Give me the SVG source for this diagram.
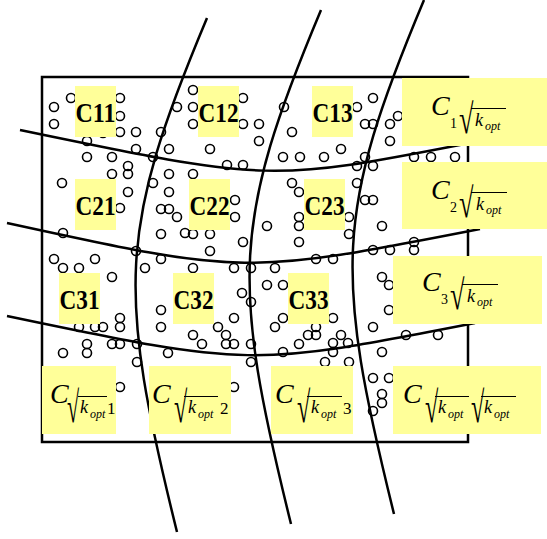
<svg xmlns="http://www.w3.org/2000/svg" width="547" height="539" viewBox="0 0 547 539">
<style>
.frame{fill:none;stroke:#000;stroke-width:2.5}
.pt{fill:none;stroke:#000;stroke-width:1.6}
.curve{fill:none;stroke:#000;stroke-width:2.5}
.box{fill:#FFFF99}
.lbl{font-family:"Liberation Serif","Times New Roman",serif;font-weight:bold;font-size:28px;fill:#000}
.it{font-family:"Liberation Serif","Times New Roman",serif;font-style:italic;fill:#000}
.rm{font-family:"Liberation Serif","Times New Roman",serif;fill:#000}
.C{font-size:28px}
.k{font-size:18px}
.o{font-size:12px}
.d{font-size:14px}
.rad{font-family:"Liberation Serif","Times New Roman",serif;font-size:22px;fill:#000}
.bar{stroke:#000;stroke-width:1}
</style>
<defs><circle id="p" r="4.5" class="pt"/></defs>
<rect class="frame" x="42" y="77" width="426" height="365"/>
<g id="points">
<use href="#p" x="71" y="98"/><use href="#p" x="54" y="107"/><use href="#p" x="54" y="124"/><use href="#p" x="120" y="98"/><use href="#p" x="120" y="116"/><use href="#p" x="120" y="132"/><use href="#p" x="136" y="132"/><use href="#p" x="161" y="132"/><use href="#p" x="177" y="107"/><use href="#p" x="87" y="141"/><use href="#p" x="87" y="157"/><use href="#p" x="112" y="157"/><use href="#p" x="136" y="149"/><use href="#p" x="153" y="157"/><use href="#p" x="169" y="149"/><use href="#p" x="128" y="166"/><use href="#p" x="128" y="174"/><use href="#p" x="112" y="174"/><use href="#p" x="103" y="133"/>
<use href="#p" x="193" y="90"/><use href="#p" x="193" y="107"/><use href="#p" x="193" y="124"/><use href="#p" x="243" y="98"/><use href="#p" x="243" y="124"/><use href="#p" x="259" y="124"/><use href="#p" x="259" y="141"/><use href="#p" x="284" y="107"/><use href="#p" x="292" y="132"/><use href="#p" x="210" y="149"/><use href="#p" x="227" y="165"/><use href="#p" x="243" y="165"/><use href="#p" x="283" y="157"/><use href="#p" x="300" y="157"/><use href="#p" x="324" y="157"/>
<use href="#p" x="373" y="98"/><use href="#p" x="357" y="107"/><use href="#p" x="365" y="124"/><use href="#p" x="373" y="124"/><use href="#p" x="398" y="116"/><use href="#p" x="390" y="124"/><use href="#p" x="390" y="141"/><use href="#p" x="341" y="149"/><use href="#p" x="365" y="157"/><use href="#p" x="357" y="166"/><use href="#p" x="373" y="166"/><use href="#p" x="414" y="157"/><use href="#p" x="431" y="157"/><use href="#p" x="455" y="157"/>
<use href="#p" x="62" y="183"/><use href="#p" x="153" y="183"/><use href="#p" x="169" y="174"/><use href="#p" x="169" y="192"/><use href="#p" x="128" y="192"/><use href="#p" x="120" y="208"/><use href="#p" x="161" y="209"/><use href="#p" x="169" y="209"/><use href="#p" x="177" y="217"/><use href="#p" x="63" y="233"/><use href="#p" x="161" y="234"/><use href="#p" x="136" y="251"/><use href="#p" x="185" y="233"/><use href="#p" x="193" y="174"/><use href="#p" x="193" y="234"/><use href="#p" x="210" y="234"/><use href="#p" x="210" y="251"/><use href="#p" x="243" y="242"/><use href="#p" x="267" y="226"/><use href="#p" x="235" y="200"/><use href="#p" x="235" y="217"/>
<use href="#p" x="292" y="183"/><use href="#p" x="299" y="192"/><use href="#p" x="299" y="217"/><use href="#p" x="299" y="226"/><use href="#p" x="299" y="242"/><use href="#p" x="357" y="183"/><use href="#p" x="365" y="200"/><use href="#p" x="373" y="200"/><use href="#p" x="349" y="217"/><use href="#p" x="349" y="234"/><use href="#p" x="382" y="226"/><use href="#p" x="414" y="242"/><use href="#p" x="414" y="250"/><use href="#p" x="373" y="250"/><use href="#p" x="390" y="250"/><use href="#p" x="333" y="259"/><use href="#p" x="316" y="259"/><use href="#p" x="54" y="259"/><use href="#p" x="95" y="259"/><use href="#p" x="161" y="259"/>
<use href="#p" x="63" y="268"/><use href="#p" x="79" y="268"/><use href="#p" x="112" y="277"/><use href="#p" x="145" y="268"/><use href="#p" x="120" y="318"/><use href="#p" x="120" y="327"/><use href="#p" x="79" y="327"/><use href="#p" x="95" y="327"/><use href="#p" x="103" y="327"/><use href="#p" x="87" y="344"/><use href="#p" x="87" y="353"/><use href="#p" x="63" y="353"/><use href="#p" x="112" y="344"/><use href="#p" x="120" y="344"/><use href="#p" x="137" y="344"/><use href="#p" x="137" y="362"/><use href="#p" x="168" y="353"/><use href="#p" x="120" y="387"/><use href="#p" x="161" y="310"/><use href="#p" x="161" y="327"/>
<use href="#p" x="193" y="268"/><use href="#p" x="234" y="268"/><use href="#p" x="251" y="268"/><use href="#p" x="275" y="268"/><use href="#p" x="267" y="285"/><use href="#p" x="283" y="285"/><use href="#p" x="242" y="293"/><use href="#p" x="251" y="302"/><use href="#p" x="234" y="318"/><use href="#p" x="283" y="318"/><use href="#p" x="275" y="327"/><use href="#p" x="218" y="327"/><use href="#p" x="226" y="335"/><use href="#p" x="193" y="335"/><use href="#p" x="202" y="344"/><use href="#p" x="226" y="344"/><use href="#p" x="234" y="344"/><use href="#p" x="251" y="344"/><use href="#p" x="283" y="352"/><use href="#p" x="251" y="362"/><use href="#p" x="234" y="387"/><use href="#p" x="299" y="344"/><use href="#p" x="308" y="335"/><use href="#p" x="316" y="335"/><use href="#p" x="316" y="327"/>
<use href="#p" x="333" y="318"/><use href="#p" x="382" y="277"/><use href="#p" x="389" y="285"/><use href="#p" x="389" y="310"/><use href="#p" x="373" y="327"/><use href="#p" x="341" y="335"/><use href="#p" x="333" y="343"/><use href="#p" x="348" y="343"/><use href="#p" x="333" y="352"/><use href="#p" x="325" y="362"/><use href="#p" x="349" y="362"/><use href="#p" x="382" y="352"/><use href="#p" x="406" y="335"/><use href="#p" x="438" y="335"/><use href="#p" x="373" y="378"/><use href="#p" x="389" y="378"/><use href="#p" x="382" y="394"/><use href="#p" x="382" y="403"/><use href="#p" x="373" y="411"/>
</g>
<g id="connectors">
<path class="curve" d="M20,130 C270,182 270,182 470,143"/>
<path class="curve" d="M7,223 C245,275 245,275 480,229"/>
<path class="curve" d="M7,316 C250,367 250,367 475,323"/>
<path class="curve" d="M207,18 C118,230 117,290 177,532"/>
<path class="curve" d="M321,10 C232,222 231,282 291,524"/>
<path class="curve" d="M424,0 C335,212 334,272 394,514"/>
</g>
<g id="C11"><rect class="box" x="75" y="86" width="41" height="51"/><text class="lbl" x="95.5" y="122" text-anchor="middle" textLength="40" lengthAdjust="spacingAndGlyphs">C11</text></g>
<g id="C12"><rect class="box" x="198" y="86" width="41" height="51"/><text class="lbl" x="218.5" y="122" text-anchor="middle" textLength="40" lengthAdjust="spacingAndGlyphs">C12</text></g>
<g id="C13"><rect class="box" x="312" y="86" width="41" height="51"/><text class="lbl" x="332.5" y="122" text-anchor="middle" textLength="40" lengthAdjust="spacingAndGlyphs">C13</text></g>
<g id="C21"><rect class="box" x="75" y="179" width="41" height="51"/><text class="lbl" x="95.5" y="215" text-anchor="middle" textLength="40" lengthAdjust="spacingAndGlyphs">C21</text></g>
<g id="C22"><rect class="box" x="189" y="179" width="41" height="51"/><text class="lbl" x="209.5" y="215" text-anchor="middle" textLength="40" lengthAdjust="spacingAndGlyphs">C22</text></g>
<g id="C23"><rect class="box" x="304" y="179" width="41" height="51"/><text class="lbl" x="324.5" y="215" text-anchor="middle" textLength="40" lengthAdjust="spacingAndGlyphs">C23</text></g>
<g id="C31"><rect class="box" x="59" y="273" width="41" height="51"/><text class="lbl" x="79.5" y="309" text-anchor="middle" textLength="40" lengthAdjust="spacingAndGlyphs">C31</text></g>
<g id="C32"><rect class="box" x="173" y="273" width="41" height="51"/><text class="lbl" x="193.5" y="309" text-anchor="middle" textLength="40" lengthAdjust="spacingAndGlyphs">C32</text></g>
<g id="C33"><rect class="box" x="288" y="273" width="41" height="51"/><text class="lbl" x="308.5" y="309" text-anchor="middle" textLength="40" lengthAdjust="spacingAndGlyphs">C33</text></g>
<g id="C1k"><rect class="box" x="402" y="78" width="145" height="68"/>
<text class="it C" x="431" y="115">C</text><text class="rm d" x="450" y="128">1</text><text class="rad" transform="translate(459,133) scale(1.2,1.9)">√</text><line class="bar" x1="471" y1="108.5" x2="506" y2="108.5"/><text class="it k" x="475" y="126">k</text><text class="it o" x="485" y="130">opt</text></g>
<g id="C2k"><rect class="box" x="402" y="162" width="145" height="67"/>
<text class="it C" x="431" y="199">C</text><text class="rm d" x="450" y="212">2</text><text class="rad" transform="translate(459,217) scale(1.2,1.9)">√</text><line class="bar" x1="471" y1="192.5" x2="507" y2="192.5"/><text class="it k" x="476" y="210">k</text><text class="it o" x="486" y="214">opt</text></g>
<g id="C3k"><rect class="box" x="393" y="256" width="149" height="68"/>
<text class="it C" x="422" y="291">C</text><text class="rm d" x="441" y="304">3</text><text class="rad" transform="translate(450,309) scale(1.2,1.9)">√</text><line class="bar" x1="462" y1="284.5" x2="498" y2="284.5"/><text class="it k" x="467" y="302">k</text><text class="it o" x="477" y="306">opt</text></g>
<g id="Ck1"><rect class="box" x="42" y="366" width="74" height="68"/>
<text class="it C" x="50" y="403">C</text><text class="rad" transform="translate(67,422) scale(1,2)">√</text><line class="bar" x1="78" y1="396.5" x2="107" y2="396.5"/><text class="it k" x="80" y="413">k</text><text class="it o" x="90" y="418">opt</text><text class="rm" font-size="17" x="107" y="414">1</text></g>
<g id="Ck2"><rect class="box" x="149" y="366" width="82" height="68"/>
<text class="it C" x="152" y="403">C</text><text class="rad" transform="translate(174,422) scale(1.1,2)">√</text><line class="bar" x1="184" y1="396.5" x2="218" y2="396.5"/><text class="it k" x="188" y="413">k</text><text class="it o" x="198" y="418">opt</text><text class="rm" font-size="17" x="220" y="414">2</text></g>
<g id="Ck3"><rect class="box" x="271" y="366" width="82" height="68"/>
<text class="it C" x="275" y="403">C</text><text class="rad" transform="translate(297,422) scale(1.1,2)">√</text><line class="bar" x1="307" y1="396.5" x2="342" y2="396.5"/><text class="it k" x="311" y="413">k</text><text class="it o" x="321" y="418">opt</text><text class="rm" font-size="17" x="343" y="414">3</text></g>
<g id="Ckk"><rect class="box" x="393" y="366" width="148" height="68"/>
<text class="it C" x="403" y="403">C</text><text class="rad" transform="translate(425,422) scale(1.1,2)">√</text><line class="bar" x1="435" y1="396.5" x2="469" y2="396.5"/><text class="it k" x="438" y="413">k</text><text class="it o" x="448" y="418">opt</text><text class="rad" transform="translate(471,422) scale(1.1,2)">√</text><line class="bar" x1="481" y1="396.5" x2="516" y2="396.5"/><text class="it k" x="484" y="413">k</text><text class="it o" x="494" y="418">opt</text></g>
</svg>
